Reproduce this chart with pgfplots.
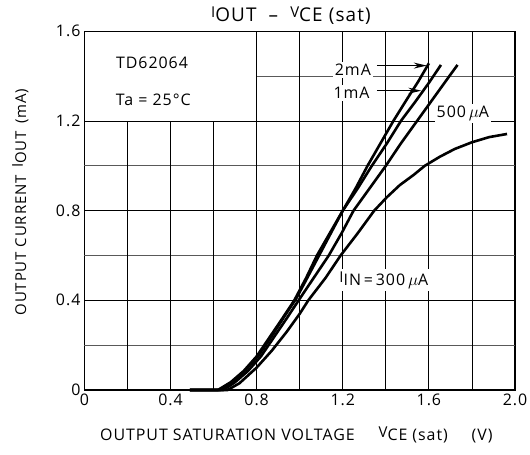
\documentclass[border=0pt]{standalone}
\usepackage{fontspec}
\setmainfont{Open Sans}
\newfontfamily\wide{Open Sans}[LetterSpace=6]
\usepackage{pgfplots}
\pgfplotsset{compat=1.18}
\usetikzlibrary{arrows.meta}
\newcommand{\sx}[2]{\raisebox{0.4ex}{\fontsize{15}{16}\selectfont #1}#2}
\begin{document}
\begin{tikzpicture}[x=1bp,y=1bp]
\path[use as bounding box] (-84.4,-65) rectangle (445.6,390);
\begin{axis}[at={(0,0)}, anchor=south west, scale only axis,
  width=430.6bp, height=358.7bp,
  xmin=0, xmax=2, ymin=0, ymax=1.6, clip=false,
  axis line style={line width=1.5bp},
  major tick length=0pt,
  xtick={0,0.4,0.8,1.2,1.6,2.0}, xticklabels={0,0.4,0.8,1.2,1.6,2.0},
  ytick={0,0.4,0.8,1.2,1.6}, yticklabels={0,0.4,0.8,1.2,1.6},
  ticklabel style={font=\wide\fontsize{16}{18}\selectfont},
  xticklabel style={yshift=-0.5bp},
  yticklabel style={xshift=-0.5bp},
]
% grid
\pgfplotsinvokeforeach{0.4,0.8,1.2}{\draw[line width=0.9bp] (axis cs:0,#1) -- (axis cs:2,#1);}
\pgfplotsinvokeforeach{0.2,0.6,1.0}{\draw[line width=0.9bp, black!65] (axis cs:0,#1) -- (axis cs:2,#1);}
\draw[line width=0.9bp, black!65] (axis cs:0.8,1.4) -- (axis cs:2,1.4);
\pgfplotsinvokeforeach{0.2,0.4,0.6}{\draw[line width=0.9bp] (axis cs:#1,0) -- (axis cs:#1,1.2);}
\pgfplotsinvokeforeach{0.8,1.0,1.2,1.4,1.6,1.8}{\draw[line width=0.9bp] (axis cs:#1,0) -- (axis cs:#1,1.6);}
% curves
\addplot[line width=2.6bp, black] coordinates {(0.49,0) (0.62,0) (0.68,0.035) (0.74,0.085) (0.80,0.15) (0.86,0.235) (0.92,0.32) (0.975,0.40) (1.03,0.50) (1.08,0.60) (1.14,0.70) (1.20,0.80) (1.26,0.90) (1.315,1.00) (1.375,1.10) (1.435,1.20) (1.50,1.30) (1.55,1.375) (1.60,1.457)};
\addplot[line width=2.6bp, black] coordinates {(0.49,0) (0.63,0) (0.69,0.035) (0.75,0.09) (0.81,0.155) (0.87,0.24) (0.93,0.33) (0.985,0.41) (1.035,0.50) (1.09,0.60) (1.145,0.70) (1.20,0.80) (1.27,0.90) (1.335,1.00) (1.405,1.10) (1.47,1.20) (1.54,1.29) (1.60,1.37) (1.656,1.45)};
\addplot[line width=2.6bp, black] coordinates {(0.49,0) (0.645,0) (0.70,0.035) (0.76,0.085) (0.82,0.15) (0.88,0.235) (0.94,0.32) (0.995,0.40) (1.065,0.50) (1.135,0.60) (1.195,0.70) (1.25,0.80) (1.325,0.90) (1.40,1.00) (1.47,1.10) (1.545,1.20) (1.62,1.30) (1.695,1.40) (1.733,1.45)};
\addplot[line width=2.6bp, black] coordinates {(0.49,0) (0.665,0) (0.72,0.03) (0.80,0.10) (0.87,0.175) (0.94,0.26) (1.00,0.34) (1.04,0.40) (1.12,0.50) (1.19,0.60) (1.27,0.70) (1.346,0.80) (1.405,0.86) (1.465,0.914) (1.53,0.96) (1.581,1.00) (1.65,1.04) (1.72,1.075) (1.80,1.105) (1.88,1.128) (1.963,1.142)};
% labels
\node[font=\wide\fontsize{16}{18}\selectfont] at (axis cs:0.314,1.458) {TD62064};
\node[font=\wide\fontsize{16}{18}\selectfont] at (axis cs:0.32,1.293) {Ta = 25°C};
\node[fill=white, inner sep=2bp, font=\wide\fontsize{16}{18}\selectfont] at (axis cs:1.247,1.427) {2mA};
\node[fill=white, inner sep=2bp, font=\wide\fontsize{16}{18}\selectfont] at (axis cs:1.241,1.325) {1mA};
\node[fill=white, inner sep=2bp, font=\wide\fontsize{16}{18}\selectfont] at (axis cs:1.758,1.235) {500$\,\mu$A};
\node[fill=white, inner sep=2bp, font=\wide\fontsize{16}{18}\selectfont] at (axis cs:1.391,0.49) {\sx{I}{IN}$\,$=$\,$300$\,\mu$A};
\draw[line width=1.2bp, -{Stealth[length=13bp,width=6bp]}] (axis cs:1.358,1.447) -- (axis cs:1.59,1.447);
\draw[line width=1.2bp, -{Stealth[length=13bp,width=6bp]}] (axis cs:1.358,1.335) -- (axis cs:1.565,1.335);
\end{axis}
\node[font=\wide\fontsize{19}{21}\selectfont] at (206.6,374) {\sx{I}{OUT}\ \ –\ \ \sx{V}{CE} (sat)};
\node[font=\wide\fontsize{16}{18}\selectfont] at (212,-45) {OUTPUT SATURATION VOLTAGE\quad\enspace\sx{V}{CE} (sat)\quad\enspace(V)};
\node[rotate=90, font=\wide\fontsize{15}{17}\selectfont] at (-64,188) {OUTPUT CURRENT\enspace\sx{I}{OUT}\enspace(mA)};
\end{tikzpicture}
\end{document}
